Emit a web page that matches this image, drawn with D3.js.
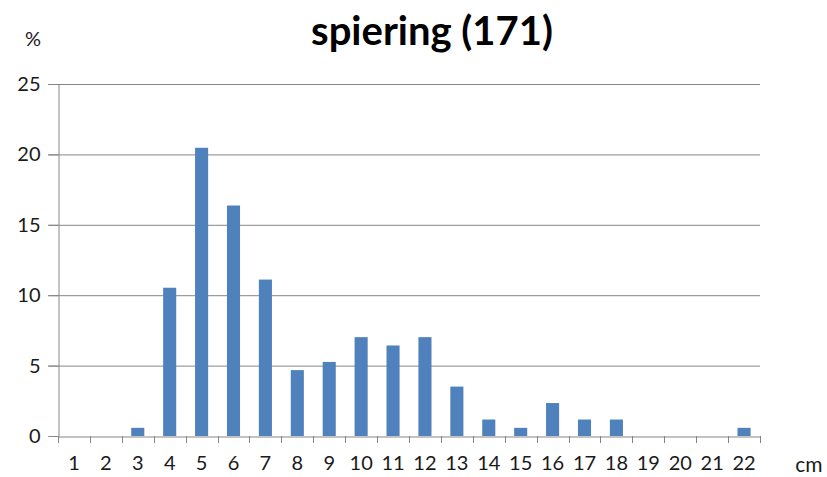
<!DOCTYPE html>
<html><head><meta charset="utf-8">
<script src="https://cdn.jsdelivr.net/npm/d3@7"></script>
<style>body{margin:0;background:#fff;} svg{display:block;}</style>
</head><body>
<svg id="c" width="827" height="477"></svg>
<script>
const categories = ["1","2","3","4","5","6","7","8","9","10","11","12","13","14","15","16","17","18","19","20","21","22"];
const values = [0,0,0.58,10.53,20.47,16.37,11.11,4.68,5.26,7.02,6.43,7.02,3.51,1.17,0.58,2.34,1.17,1.17,0,0,0,0.58];
const yTicks = [0,5,10,15,20,25];
const title = "spiering (171)";

const svg = d3.select("#c");
const L = 58, R = 760, T = 84, B = 436;
const font = "Lato, 'Open Sans', sans-serif";
const x = d3.scaleBand().domain(categories).range([L, R]).paddingInner(0.59).paddingOuter(0.295);
const xb = d3.scaleBand().domain(categories).range([L, R]);
const y = d3.scaleLinear().domain([0, 25]).range([B, T]);

svg.append("g").selectAll("line").data(yTicks.filter(d => d > 0)).join("line")
  .attr("x1", L - 10).attr("x2", R).attr("y1", d => y(d) + 0.5).attr("y2", d => y(d) + 0.5)
  .attr("stroke", "#868686").attr("stroke-width", 1);

const ya = svg.append("g").attr("transform", `translate(${L + 0.5},0)`)
  .call(d3.axisLeft(y).tickValues(yTicks).tickSize(10).tickPadding(8).tickFormat(d3.format("d")));
ya.selectAll("path,line").attr("stroke", "#868686");
ya.selectAll("text").attr("font-family", font).attr("font-size", 20).attr("fill", "#1a1a1a");

svg.append("g").selectAll("rect").data(values).join("rect")
  .attr("x", (d, i) => x(categories[i])).attr("width", x.bandwidth())
  .attr("y", d => y(d)).attr("height", d => B - y(d))
  .attr("fill", "#4F81BD");

const xa = svg.append("g").attr("transform", `translate(0,${B + 0.5})`)
  .call(d3.axisBottom(xb).tickSize(0).tickPadding(19));
xa.select(".domain").attr("stroke", "#868686");
xa.selectAll("text").attr("font-family", font).attr("font-size", 20).attr("fill", "#1a1a1a");
const bounds = categories.map(c => xb(c)).concat([R]);
svg.append("g").selectAll("line").data(bounds).join("line")
  .attr("x1", d => Math.round(d) + 0.5).attr("x2", d => Math.round(d) + 0.5)
  .attr("y1", B).attr("y2", B + 7).attr("stroke", "#868686");

svg.append("text").attr("x", 432).attr("y", 45).attr("text-anchor", "middle")
  .attr("font-family", font).attr("font-weight", "bold").attr("font-size", 40).attr("fill", "#000").text(title);
svg.append("text").attr("x", 33).attr("y", 46).attr("text-anchor", "middle")
  .attr("font-family", font).attr("font-size", 20).attr("fill", "#1a1a1a").text("%");
svg.append("text").attr("x", 809).attr("y", 472).attr("text-anchor", "middle")
  .attr("font-family", font).attr("font-size", 21).attr("fill", "#1a1a1a").text("cm");
</script>
</body></html>
